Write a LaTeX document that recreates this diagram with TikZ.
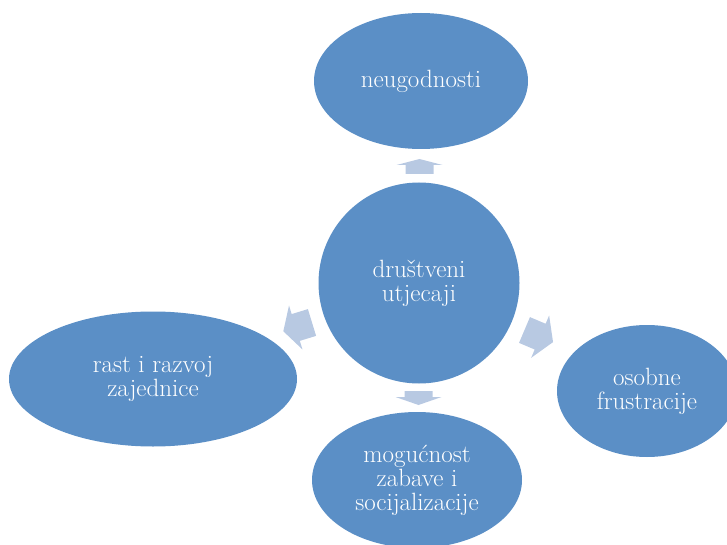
\documentclass[tikz,border=0pt]{standalone}
\usepackage{fontspec}
\usepackage{xcolor}
\usetikzlibrary{shapes.geometric}

\definecolor{bubbleblue}{RGB}{91,143,198}
\definecolor{arrowblue}{RGB}{184,201,226}

\tikzset{
    pics/blockarrow/.style n args={2}{code={
        \fill[arrowblue] (0,-14) -- (#1-#2,-14) -- (#1-#2,-23) -- (#1,0)
            -- (#1-#2,23) -- (#1-#2,14) -- (0,14) -- cycle;
    }}
}

\begin{document}
\begin{tikzpicture}[
        x=1pt, y=-1pt,
        bubble/.style={ellipse, fill=bubbleblue, inner sep=0pt, text=white,
            align=center, font=\fontsize{25}{24}\selectfont}
    ]
    \useasboundingbox (0,0) rectangle (727,545);
    \clip (0,0) rectangle (727,545);

    \node[bubble, circle, minimum size=201pt] (drustveni) at (419,283) {društveni\\utjecaji};
    \node[bubble, minimum width=214pt, minimum height=136pt] (neugodnosti) at (421,81) {neugodnosti};
    \node[bubble, minimum width=288pt, minimum height=135pt] (zajednica) at (153,379) {rast i razvoj\\zajednice};
    \node[bubble, minimum width=180pt, minimum height=132pt] (frustracije) at (647,391) {osobne\\frustracije};
    \node[bubble, minimum width=210pt, minimum height=136pt] (zabava) at (417,480) {mogućnost\\zabave i\\socijalizacije};

    % arrows out of the centre
    \pic[rotate=90] at (419.5,174) {blockarrow={15}{6}};
    \pic[rotate=-90] at (418.5,391) {blockarrow={14}{8}};
    \pic[rotate=197] at (312,322.5) {blockarrow={30}{13}};
    \pic[rotate=-23] at (524.5,330) {blockarrow={31}{14}};
\end{tikzpicture}
\end{document}
